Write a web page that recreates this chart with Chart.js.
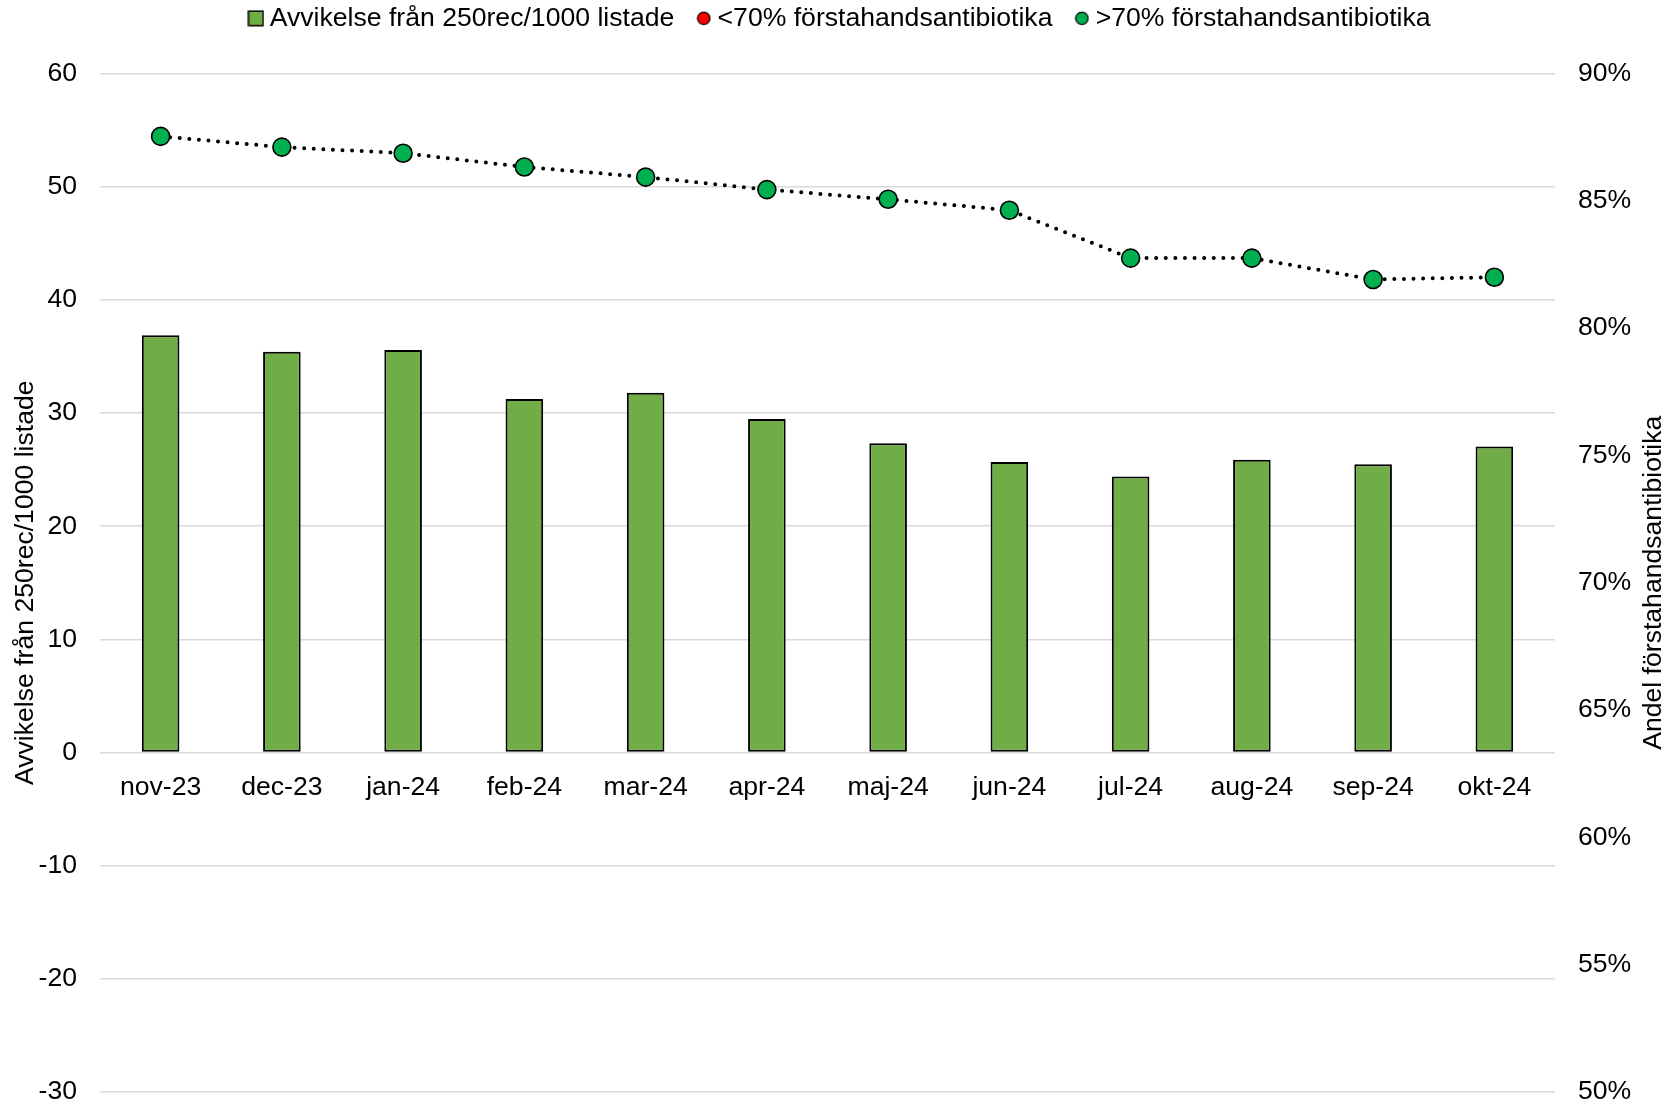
<!DOCTYPE html>
<html>
<head>
<meta charset="utf-8">
<script src="https://cdn.jsdelivr.net/npm/chart.js@4.4.1/dist/chart.umd.min.js"></script>
<style>
    html, body { margin: 0; padding: 0; background: #ffffff; }
    #wrap { width: 1670px; height: 1107px; }
</style>
</head>
<body>
<div id="wrap"><canvas id="chart" width="1670" height="1107"></canvas></div>
<script>
// Data
const months    = ['nov-23', 'dec-23', 'jan-24', 'feb-24', 'mar-24', 'apr-24', 'maj-24', 'jun-24', 'jul-24', 'aug-24', 'sep-24', 'okt-24'];
const deviation = [36.87, 35.42, 35.57, 31.24, 31.8, 29.48, 27.33, 25.66, 24.39, 25.86, 25.48, 27.03];
const firstLine = [87.53, 87.11, 86.87, 86.33, 85.93, 85.44, 85.06, 84.63, 82.75, 82.75, 81.91, 82.0];
const leftRange  = [-30, 60];
const rightRange = [50, 90];
const legendTexts = ['Avvikelse från 250rec/1000 listade', '<70% förstahandsantibiotika', '>70% förstahandsantibiotika'];

const FONT  = 'Liberation Sans';
const SIZE  = 26.6;
const GREEN_BAR = '#70ad47';
const GREEN_DOT = '#00b050';
const RED_DOT   = '#ff0000';

// small canvases used as legend symbols
function squareIcon(fill) {
    const c = document.createElement('canvas');
    c.width = 17; c.height = 17;
    const g = c.getContext('2d');
    g.fillStyle = fill;
    g.fillRect(1, 1, 15, 15);
    g.lineWidth = 1.5;
    g.strokeStyle = '#000';
    g.strokeRect(1.25, 1.25, 14.5, 14.5);
    return c;
}
function circleIcon(fill) {
    const c = document.createElement('canvas');
    c.width = 15; c.height = 15;
    const g = c.getContext('2d');
    g.beginPath();
    g.arc(7.5, 7.5, 6.2, 0, Math.PI * 2);
    g.fillStyle = fill;
    g.fill();
    g.lineWidth = 1.3;
    g.strokeStyle = '#000';
    g.stroke();
    return c;
}
const legendIcons = [squareIcon(GREEN_BAR), circleIcon(RED_DOT), circleIcon(GREEN_DOT)];

// legend sits higher and leaves room down to the plot
const legendSpace = {
    id: 'legendSpace',
    beforeInit(chart) {
        const fit = chart.legend.fit;
        chart.legend.fit = function () {
            fit.bind(chart.legend)();
            this.height = 97.5;
        };
    }
};

// right axis title, reading bottom to top like the left one
const rightTitle = {
    id: 'rightTitle',
    afterDraw(chart) {
        const s = chart.scales.y1;
        const ctx = chart.ctx;
        ctx.save();
        ctx.translate(s.left + 99, (s.top + s.bottom) / 2);
        ctx.rotate(-Math.PI / 2);
        ctx.font = `${SIZE}px "${FONT}"`;
        ctx.fillStyle = '#000';
        ctx.textAlign = 'center';
        ctx.textBaseline = 'middle';
        ctx.fillText('Andel förstahandsantibiotika', 0, 0);
        ctx.restore();
    }
};

new Chart(document.getElementById('chart'), {
    data: {
        labels: months,
        datasets: [
            {
                type: 'line',
                label: legendTexts[2],
                data: firstLine,
                yAxisID: 'y1',
                order: 0,
                borderColor: '#000',
                borderWidth: 4,
                borderDash: [0, 9.6],
                borderCapStyle: 'round',
                tension: 0,
                pointRadius: 9,
                pointBorderWidth: 1.6,
                pointBorderColor: '#000',
                pointBackgroundColor: (ctx) => ctx.raw < 70 ? RED_DOT : GREEN_DOT
            },
            {
                type: 'bar',
                label: legendTexts[0],
                data: deviation,
                yAxisID: 'y',
                order: 1,
                backgroundColor: GREEN_BAR,
                borderColor: '#000',
                borderWidth: 2,
                borderSkipped: false,
                categoryPercentage: 1,
                barPercentage: 0.31
            }
        ]
    },
    options: {
        responsive: false,
        animation: false,
        devicePixelRatio: 1,
        layout: { padding: { top: -24, left: 8, right: -8, bottom: 0 } },
        plugins: {
            tooltip: { enabled: false },
            legend: {
                position: 'top',
                labels: {
                    usePointStyle: true,
                    boxWidth: 1,
                    padding: 29,
                    color: '#000',
                    font: { family: FONT, size: SIZE },
                    generateLabels: () => legendTexts.map((text, i) => ({
                        text,
                        pointStyle: legendIcons[i],
                        fontColor: '#000',
                        lineWidth: 0,
                        hidden: false,
                        datasetIndex: i === 0 ? 1 : 0
                    }))
                }
            }
        },
        scales: {
            x: {
                type: 'category',
                position: { y: 0 },
                offset: true,
                grid: { display: false },
                border: { display: false },
                ticks: {
                    color: '#000',
                    padding: 11,
                    maxRotation: 0,
                    font: { family: FONT, size: SIZE }
                }
            },
            y: {
                position: 'left',
                min: leftRange[0],
                max: leftRange[1],
                grid: { color: '#d9d9d9', lineWidth: 1.5, drawTicks: false },
                border: { display: false },
                ticks: {
                    stepSize: 10,
                    padding: 23,
                    color: '#000',
                    font: { family: FONT, size: SIZE }
                },
                title: {
                    display: true,
                    text: 'Avvikelse från 250rec/1000 listade',
                    color: '#000',
                    padding: { top: 2, bottom: 0 },
                    font: { family: FONT, size: SIZE }
                },
                afterFit: (scale) => { scale.width = 92; scale.paddingBottom = 15; }
            },
            y1: {
                position: 'right',
                min: rightRange[0],
                max: rightRange[1],
                grid: { display: false, drawTicks: false },
                border: { display: false },
                ticks: {
                    stepSize: 5,
                    padding: 23,
                    color: '#000',
                    font: { family: FONT, size: SIZE },
                    callback: (v) => v + '%'
                },
                afterFit: (scale) => { scale.width = 123; scale.paddingBottom = 15; }
            }
        }
    },
    plugins: [legendSpace, rightTitle]
});
</script>
</body>
</html>
